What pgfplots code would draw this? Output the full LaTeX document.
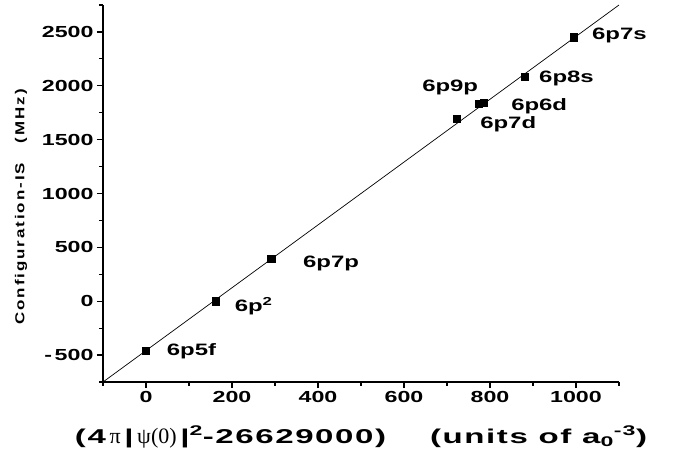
\documentclass[border=0pt]{standalone}
\usepackage{pgfplots}
\pgfplotsset{compat=1.18}
\usepackage{fontspec}
\setmainfont{Liberation Sans}
\newfontfamily\tf{Liberation Sans Bold}[FakeStretch=1.45]
\newfontfamily\xf{Liberation Sans Bold}[FakeStretch=1.65,LetterSpace=8]
\newfontfamily\yf{Liberation Sans Bold}[FakeStretch=1.3,LetterSpace=15]
\newfontfamily\serifx{Liberation Serif}
\begin{document}
\begin{tikzpicture}
\begin{axis}[
  scale only axis, width=516pt, height=377pt,
  xmin=-100, xmax=1100, ymin=-750, ymax=2750,
  axis x line=bottom, axis y line=left,
  axis line style={-, line width=1.6pt},
  xtick={0,200,400,600,800,1000},
  xticklabels={0,200,400,600,800,1000},
  minor xtick={-100,100,300,500,700,900,1100},
  ytick={-500,0,500,1000,1500,2000,2500},
  yticklabels={-\,500,0,500,1000,1500,2000,2500},
  minor ytick={-750,-250,250,750,1250,1750,2250,2750},
  tick align=outside, major tick length=6pt, minor tick length=3.5pt,
  every tick/.style={line width=1.2pt, black},
  ticklabel style={font=\tf\fontsize{16}{16}\selectfont},
  clip=false,
]
\addplot[black, line width=0.7pt, no marks] coordinates {(-100,-750) (1100,2750)};
\addplot[only marks, mark=square*, mark size=3.7pt, black] coordinates {
  (0,-460) (162,0) (291,392) (723,1697) (774,1835) (786,1845) (881,2083) (995,2450)
};
\begin{scope}[every node/.style={anchor=base west, inner sep=0pt, font=\tf\fontsize{16.5}{16.5}\selectfont}]
\node at (axis cs:48,-500) {6p5f};
\node at (axis cs:206,-99) {6p\textsuperscript{2}};
\node at (axis cs:365,312) {6p7p};
\node at (axis cs:777,1599) {6p7d};
\node at (axis cs:849,1769) {6p6d};
\node at (axis cs:642,1947) {6p9p};
\node at (axis cs:914,2031) {6p8s};
\node at (axis cs:1037,2432) {6p7s};
\end{scope}
\end{axis}
\node[rotate=90, anchor=center, inner sep=0pt, font=\yf\fontsize{13}{13}\selectfont]
  at ([shift={(-82pt,175pt)}]current axis.south west) {Configuration-IS\ \ \ (MHz)};
\node[anchor=base, inner sep=0pt, font=\xf\fontsize{20}{20}\selectfont]
  at ([shift={(258pt,-61pt)}]current axis.south west)
  {(4{\serifx\fontsize{22}{22}\selectfont\,π\,}|{\serifx\fontsize{22}{22}\selectfont\,ψ(0)\,}|\textsuperscript{2}-26629000)\hspace{44pt}(units of a\textsubscript{0}\textsuperscript{-3})};
\pgfresetboundingbox
\useasboundingbox ([shift={(-103pt,-71pt)}]current axis.south west) rectangle ++(673pt,453pt);
\end{tikzpicture}
\end{document}
